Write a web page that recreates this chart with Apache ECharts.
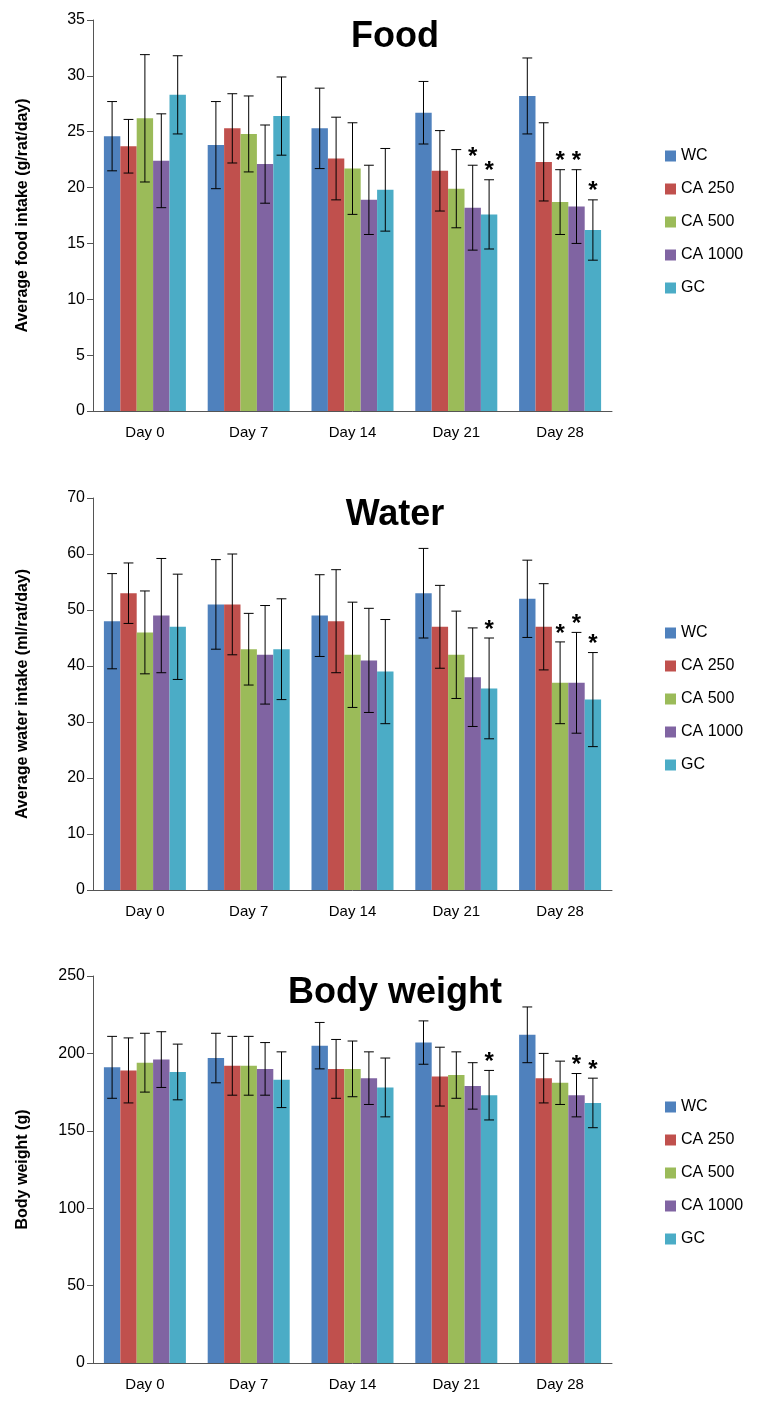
<!DOCTYPE html>
<html><head><meta charset="utf-8">
<script src="https://cdn.jsdelivr.net/npm/echarts@6/dist/echarts.min.js"></script>
<style>html,body{margin:0;background:#fff}#c{width:768px;height:1404px}</style>
</head><body><div id="c"></div>
<script>
var days = ['Day 0', 'Day 7', 'Day 14', 'Day 21', 'Day 28'];
var groups = ['WC', 'CA 250', 'CA 500', 'CA 1000', 'GC'];
var colors = ['#4F81BD', '#C0504D', '#9BBB59', '#8064A2', '#4BACC6'];

// [group][day]
var foodMean = [[24.6,23.8,25.3,26.7,28.2],[23.7,25.3,22.6,21.5,22.3],[26.2,24.8,21.7,19.9,18.7],[22.4,22.1,18.9,18.2,18.3],[28.3,26.4,19.8,17.6,16.2]];
var foodSd   = [[3.1,3.9,3.6,2.8,3.4],[2.4,3.1,3.7,3.6,3.5],[5.7,3.4,4.1,3.5,2.9],[4.2,3.5,3.1,3.8,3.3],[3.5,3.5,3.7,3.1,2.7]];
var foodStar = [[3,3],[4,2],[4,3],[3,4],[4,4]]; // [day, group]

var waterMean = [[48,51,49,53,52],[53,51,48,47,47],[46,43,42,42,37],[49,42,41,38,37],[47,43,39,36,34]];
var waterSd   = [[8.5,8,7.3,8,6.9],[5.4,9,9.2,7.4,7.7],[7.4,6.4,9.4,7.8,7.3],[10.2,8.8,9.3,8.8,9],[9.4,9,9.3,9,8.4]];
var waterStar = [[3,4],[4,2],[4,3],[4,4]];

var bwMean = [[191,197,205,207,212],[189,192,190,185,184],[194,192,190,186,181],[196,190,184,179,173],[188,183,178,173,168]];
var bwSd   = [[20,16,15,14,18],[21,19,19,19,16],[19,19,18,15,14],[18,17,17,15,14],[18,18,19,16,16]];
var bwStar = [[3,4],[4,3],[4,4]];

var panels = [
  {title: 'Food', yName: 'Average food intake (g/rat/day)', max: 35, interval: 5, top: 20, height: 391, legendTop: 143, mean: foodMean, sd: foodSd, star: foodStar},
  {title: 'Water', yName: 'Average water intake (ml/rat/day)', max: 70, interval: 10, top: 498, height: 392, legendTop: 620, mean: waterMean, sd: waterSd, star: waterStar},
  {title: 'Body weight', yName: 'Body weight (g)', max: 250, interval: 50, top: 976, height: 387, legendTop: 1094, mean: bwMean, sd: bwSd, star: bwStar}
];

var gapFrac = 0.21;
var font = 'Liberation Sans, Arial, sans-serif';
var option = {
  animation: false,
  textStyle: {fontFamily: font},
  title: [], legend: [], grid: [], xAxis: [], yAxis: [], series: []
};

panels.forEach(function (p, k) {
  option.grid.push({left: 93, width: 519, top: p.top, height: p.height});
  option.title.push({text: p.title, left: 390, top: p.top - 6, textAlign: 'center',
    textStyle: {fontSize: 36, fontWeight: 'bold', color: '#000', fontFamily: font}});
  option.legend.push({data: groups, orient: 'vertical', left: 660, top: p.legendTop,
    itemWidth: 11, itemHeight: 11, itemGap: 17, icon: 'rect',
    textStyle: {fontSize: 16, color: '#000', fontFamily: font}});
  option.xAxis.push({type: 'category', gridIndex: k, data: days,
    axisLine: {lineStyle: {color: '#555'}}, axisTick: {length: 6, lineStyle: {color: '#555'}},
    axisLabel: {fontSize: 15, color: '#000', margin: 14}});
  option.yAxis.push({type: 'value', gridIndex: k, min: 0, max: p.max, interval: p.interval,
    name: p.yName, nameLocation: 'middle', nameGap: 62, nameRotate: 90,
    nameTextStyle: {fontSize: 16, fontWeight: 'bold', color: '#000'},
    axisLine: {show: true, lineStyle: {color: '#555'}}, axisTick: {show: true, inside: false, length: 6, lineStyle: {color: '#555'}},
    splitLine: {show: false}, axisLabel: {fontSize: 16, color: '#000'}});
  groups.forEach(function (g, i) {
    option.series.push({type: 'bar', name: g, xAxisIndex: k, yAxisIndex: k,
      data: p.mean[i], barGap: '0%', barCategoryGap: (gapFrac * 100) + '%',
      itemStyle: {color: colors[i]}});
  });
  var errData = [];
  groups.forEach(function (g, i) {
    days.forEach(function (d, j) {
      var starred = p.star.some(function (s) { return s[0] === j && s[1] === i; });
      errData.push([j, i, p.mean[i][j], p.sd[i][j], starred ? 1 : 0]);
    });
  });
  option.series.push({type: 'custom', xAxisIndex: k, yAxisIndex: k, data: errData, z: 10,
    encode: {x: 0, y: 2},
    renderItem: function (params, api) {
      var j = api.value(0), i = api.value(1), m = api.value(2), s = api.value(3);
      var band = api.size([1, 0])[0];
      var bw = band * (1 - gapFrac) / 5;
      var x = api.coord([j, 0])[0] + (i - 2) * bw;
      var hi = api.coord([j, m + s])[1], lo = api.coord([j, m - s])[1];
      var hw = bw * 0.3;
      var st = {stroke: '#000', lineWidth: 1};
      var ch = [
        {type: 'line', shape: {x1: x, y1: hi, x2: x, y2: lo}, style: st},
        {type: 'line', shape: {x1: x - hw, y1: hi, x2: x + hw, y2: hi}, style: st},
        {type: 'line', shape: {x1: x - hw, y1: lo, x2: x + hw, y2: lo}, style: st}
      ];
      if (api.value(4)) {
        ch.push({type: 'text', style: {text: '*', x: x, y: hi + 4, align: 'center', verticalAlign: 'bottom',
          fontSize: 24, fontWeight: 'bold', fill: '#000', fontFamily: font}});
      }
      return {type: 'group', children: ch};
    }
  });
});

echarts.init(document.getElementById('c')).setOption(option);
</script>
</body></html>
